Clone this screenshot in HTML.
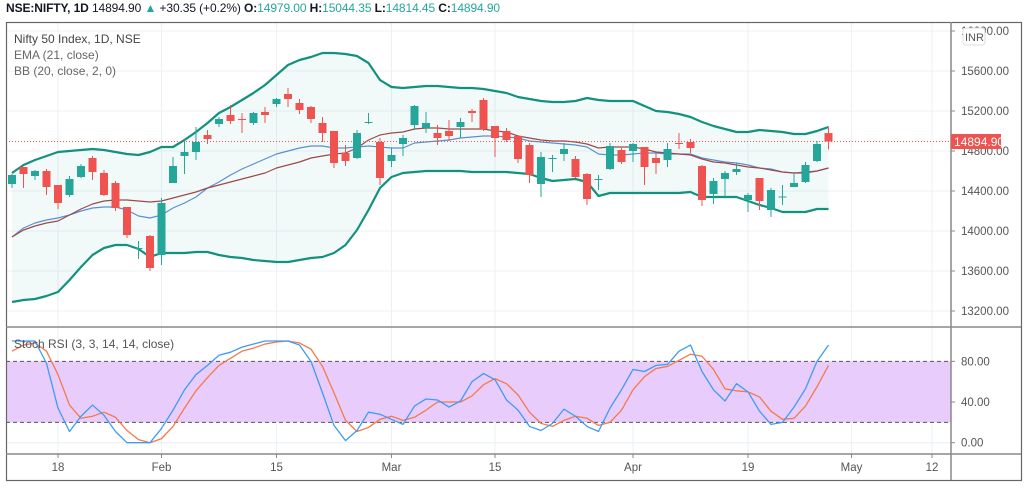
<!DOCTYPE html>
<html><head><meta charset="utf-8">
<style>
html,body{margin:0;padding:0;background:#fff;width:1024px;height:487px;overflow:hidden;font-family:"Liberation Sans",sans-serif;}
#hdr{position:absolute;left:6px;top:1px;font-size:12px;color:#131722;white-space:nowrap;letter-spacing:-0.1px}
#hdr b{font-weight:bold}
#hdr .v{color:#26a69a}
svg{position:absolute;left:0;top:0}
</style></head><body>
<div id="hdr"><b>NSE:NIFTY, 1D</b> 14894.90 <span class="v">▲</span> +30.35 (+0.2%) <b>O:</b><span class="v">14979.00</span> <b>H:</b><span class="v">15044.35</span> <b>L:</b><span class="v">14814.45</span> <b>C:</b><span class="v">14894.90</span></div>
<svg id="chart" width="1024" height="487"></svg>
<script>
const opens=[14470,14640,14550,14600,14460,14360,14540,14730,14580,14480,14240,13820,13950,13760,14480,14750,14790,14960,15070,15160,15120,15080,15190,15270,15370,15280,15240,15080,15000,14780,14730,15080,14890,14700,14870,15060,15030,14980,15000,15040,15200,15310,15050,15000,14950,14860,14470,14720,14770,14720,14570,14510,14620,14810,14800,14840,14730,14710,14880,14890,14650,14370,14520,14590,14310,14530,14210,14335,14440,14490,14700,14979];
const highs=[14570,14640,14610,14620,14460,14550,14670,14750,14610,14500,14240,13900,13960,14330,14740,14910,15040,15010,15140,15260,15180,15190,15240,15330,15430,15320,15250,15140,15000,14860,15010,15180,14930,14830,14960,15260,15190,15060,15110,15130,15220,15330,15050,15030,14950,14880,14790,14760,14880,14750,14580,14560,14880,14830,14880,14840,14780,14880,14980,14920,14660,14530,14600,14680,14380,14530,14430,14460,14580,14690,14900,15044.35];
const lows=[14430,14430,14510,14360,14220,14340,14530,14510,14350,14200,13930,13720,13600,13660,14480,14570,14710,14870,15040,15070,14980,15060,15080,15240,15240,15170,15080,14890,14630,14650,14720,15070,14460,14640,14750,15010,14980,14860,14900,14930,15090,15000,14740,14890,14680,14480,14340,14590,14700,14530,14260,14410,14610,14670,14690,14460,14570,14640,14820,14780,14250,14270,14340,14560,14190,14210,14140,14260,14440,14480,14690,14814.45];
const closes=[14560,14570,14600,14440,14280,14520,14650,14590,14360,14230,13960,13830,13630,14280,14650,14790,14890,14920,15120,15100,15110,15180,15160,15320,15320,15210,15120,14980,14680,14700,14980,15090,14530,14760,14930,15250,15080,14930,14950,15090,15180,15020,14930,14910,14720,14560,14740,14730,14820,14540,14320,14520,14850,14690,14870,14640,14680,14820,14870,14830,14310,14500,14580,14620,14360,14300,14410,14345,14480,14660,14870,14894.9];
const bbUpper=[14580,14660,14710,14750,14790,14800,14810,14820,14810,14790,14770,14760,14790,14840,14840,14910,14990,15080,15180,15240,15310,15380,15460,15560,15660,15710,15740,15780,15780,15770,15750,15680,15510,15440,15430,15440,15450,15450,15440,15430,15430,15420,15400,15380,15340,15320,15300,15290,15290,15300,15330,15310,15300,15300,15300,15250,15200,15190,15170,15140,15090,15050,15020,14990,14990,15010,15000,14990,14970,14970,15000,15040];
const bbLower=[13290,13310,13320,13350,13390,13510,13640,13760,13830,13860,13860,13820,13740,13780,13780,13780,13790,13790,13760,13740,13730,13710,13700,13690,13690,13710,13730,13740,13780,13860,14010,14210,14430,14540,14580,14590,14600,14600,14600,14600,14590,14590,14590,14590,14580,14570,14530,14500,14510,14520,14490,14350,14380,14380,14380,14380,14380,14380,14380,14390,14340,14340,14340,14340,14300,14260,14230,14190,14190,14190,14220,14220];
const bbBasis=[13940,14010,14050,14080,14100,14160,14220,14270,14300,14310,14310,14300,14290,14300,14330,14360,14390,14430,14460,14490,14520,14550,14580,14630,14660,14690,14730,14750,14770,14780,14830,14910,14960,14980,14990,15020,15030,15030,15020,15020,15020,15020,15000,14990,14950,14930,14910,14900,14900,14890,14870,14830,14840,14840,14840,14820,14790,14780,14770,14760,14720,14690,14680,14660,14640,14630,14610,14590,14580,14580,14600,14630];
const ema21=[13940,14030,14080,14110,14130,14160,14200,14230,14240,14240,14210,14150,14130,14160,14230,14280,14340,14430,14490,14560,14620,14670,14720,14770,14800,14830,14850,14850,14830,14830,14840,14850,14840,14830,14830,14880,14890,14900,14910,14930,14940,14950,14950,14940,14930,14900,14890,14880,14870,14860,14840,14770,14760,14760,14770,14780,14780,14770,14770,14770,14730,14710,14690,14680,14660,14630,14620,14590,14580,14590,14600,14630];
const stochK=[100,100,100,78,34,11,26,37,27,11,0,0,0,14,32,52,67,76,86,89,94,97,100,100,100,96,80,49,17,2,12,30,28,23,18,36,43,42,35,41,60,68,62,42,32,16,12,19,33,26,16,11,34,52,72,70,76,77,90,96,70,52,41,58,50,31,18,20,35,53,80,96];
const stochD=[90,96,98,90,67,37,24,26,30,25,12,3,0,4,16,34,51,64,76,83,90,93,97,99,100,98,92,75,49,22,11,15,23,26,22,25,32,40,40,40,46,57,63,58,47,30,19,16,22,26,24,17,20,32,52,65,73,75,81,87,85,72,53,51,50,45,31,23,24,36,55,76];
const priceTicks=[16000,15600,15200,14800,14400,14000,13600,13200];
const stochTicks=[80,40,0];
const dateLabels=["18","Feb","15","Mar","15","Apr","19","May","12"];
const dateBarIdx=[4,13,23,33,42,54,64,73,80];
const lastPrice=14894.90;

const NS="http://www.w3.org/2000/svg";
const svg=document.getElementById('chart');
function xb(i){return 12+11.5*i;}
function yp(p){return 31+(16000-p)*0.1;}
function ys(v){return 442.7-v*1.017;}
function mk(tag,attrs,parent){const e=document.createElementNS(NS,tag);for(const k in attrs)e.setAttribute(k,attrs[k]);(parent||svg).appendChild(e);return e;}
const L=6,R=951,T=22,PB=327,SB=454,B=480;
// grids
for(const p of priceTicks){const g=mk('line',{x1:L,x2:R,y1:yp(p),y2:yp(p),stroke:'#eef1f5','stroke-width':1});

}
for(const v of [40,0]){const g=mk('line',{x1:L,x2:R,y1:ys(v),y2:ys(v),stroke:'#e6eef6','stroke-width':1});

}
for(const bi of dateBarIdx){const x=xb(bi);const g=mk('line',{x1:x,x2:x,y1:T,y2:SB,stroke:'#eaf0f6','stroke-width':1});

}
// BB fill
let d='M';for(let i=0;i<bbUpper.length;i++)d+=(i?'L':'')+xb(i)+','+yp(bbUpper[i]);
for(let i=bbLower.length-1;i>=0;i--)d+='L'+xb(i)+','+yp(bbLower[i]);d+='Z';
const fill=mk('path',{d:d,fill:'rgba(38,166,154,0.06)'});


function line(arr,f,color,w,name){let s='';arr.forEach((v,i)=>{s+=(i?'L':'M')+xb(i)+','+f(v);});const e=mk('path',{d:s,fill:'none',stroke:color,'stroke-width':w,'stroke-linejoin':'round'});

return e;}
line(bbUpper,yp,'#13917f',2.2,'bb-upper-line');
line(bbLower,yp,'#13917f',2.2,'bb-lower-line');
line(ema21,yp,'#5b8fd0',1.2,'ema-line');
line(bbBasis,yp,'#9b4a4a',1.2,'bb-basis-line');
// last price line
const lp=mk('line',{x1:L,x2:R,y1:yp(lastPrice),y2:yp(lastPrice),stroke:'#ef5350','stroke-width':1,'stroke-dasharray':'1,2'});


// candles
for(let i=0;i<opens.length;i++){const up=closes[i]>=opens[i];const c=up?'#26a69a':'#ef5350';const x=xb(i);
const w=mk('line',{x1:x,x2:x,y1:yp(highs[i]),y2:yp(lows[i]),stroke:c,'stroke-width':1});


const top=yp(Math.max(opens[i],closes[i])),bot=yp(Math.min(opens[i],closes[i]));
const r=mk('rect',{x:x-4,y:top,width:8,height:Math.max(1,bot-top),fill:c});

}
// stoch band
const band=mk('rect',{x:L,y:ys(80),width:R-L,height:ys(20)-ys(80),fill:'#e8ccfb'});


for(const v of [80,20]){const e=mk('line',{x1:L,x2:R,y1:ys(v),y2:ys(v),stroke:'#555','stroke-width':1,'stroke-dasharray':'4,3'});

}
line(stochD,ys,'#f57a4a',1.3,'stoch-d-line');
line(stochK,ys,'#3d9cf5',1.3,'stoch-k-line');
// frame
const fr=mk('rect',{x:L+0.5,y:T+0.5,width:1021-L,height:B-T,fill:'none',stroke:'#666','stroke-width':1.2});


for(const yy of [PB,SB]){const e=mk('line',{x1:L,x2:1021,y1:yy,y2:yy,stroke:'#888','stroke-width':1.5});

}
const ax=mk('line',{x1:R,x2:R,y1:T,y2:B,stroke:'#888','stroke-width':1.5});


// axis labels
function txt(s,x,y,attrs,name,inter){const e=mk('text',Object.assign({x:x,y:y,'font-family':'Liberation Sans, sans-serif','font-size':'11.5',fill:'#555'},attrs||{}));e.textContent=s;

return e;}
for(const p of priceTicks){const y=yp(p);mk('line',{x1:R,x2:R+4,y1:y,y2:y,stroke:'#888'});txt(p.toFixed(2),961,y+4,{},'price-tick-label');}
for(const v of stochTicks){const y=ys(v);mk('line',{x1:R,x2:R+4,y1:y,y2:y,stroke:'#888'});txt(v.toFixed(2),961,y+4,{},'stoch-tick-label');}
dateLabels.forEach((s,k)=>{const x=xb(dateBarIdx[k]);mk('line',{x1:x,x2:x,y1:SB,y2:SB+4,stroke:'#888'});txt(s,x,471,{'text-anchor':'middle'},'date-tick-label');});
// INR badge
const ib=mk('rect',{x:963,y:28,width:22,height:17,rx:3,fill:'#fff',stroke:'#ddd'});


txt('INR',965,41,{'font-size':'11'},'currency-label',true);
// last price label
const lr=mk('rect',{x:R,y:yp(lastPrice)-7.5,width:50,height:15,fill:'#ef5350'});


txt(lastPrice.toFixed(2),R+3,yp(lastPrice)+4.5,{fill:'#fff','font-size':'12'},'last-price-label');
// legends
txt('Nifty 50 Index, 1D, NSE',14,43,{'font-size':'12',fill:'#444'},'main-legend-title');
txt('EMA (21, close)',14,59,{'font-size':'12',fill:'#666'},'ema-legend',true);
txt('BB (20, close, 2, 0)',14,75,{'font-size':'12',fill:'#666'},'bb-legend',true);
txt('Stoch RSI (3, 3, 14, 14, close)',14,348,{'font-size':'12',fill:'#555'},'stoch-legend',true);
</script>
</body></html>
